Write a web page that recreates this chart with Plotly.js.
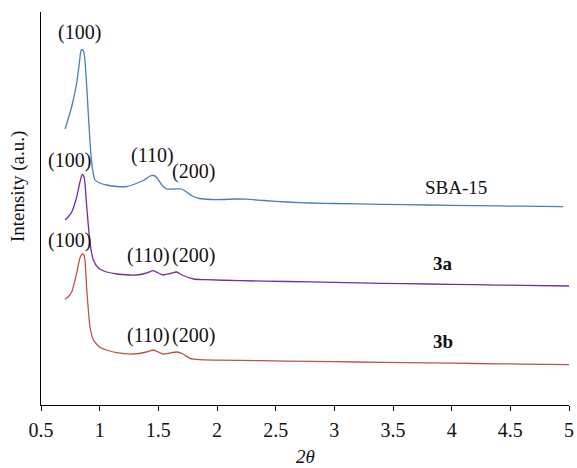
<!DOCTYPE html>
<html>
<head>
<meta charset="utf-8">
<script src="https://cdn.plot.ly/plotly-3.0.1.min.js"></script>
<style>html,body{margin:0;padding:0;background:#fff;}#chart{width:577px;height:468px;}</style>
</head>
<body>
<div id="chart"></div>
<script>
// 2θ values and intensities (arbitrary units)
const sbaX = [0.705,0.747,0.775,0.804,0.827,0.84,0.85,0.862,0.872,0.89,0.918,0.94,0.96,1.00,1.06,1.15,1.23,1.30,1.38,1.43,1.46,1.49,1.53,1.57,1.63,1.70,1.74,1.79,1.85,1.95,2.05,2.15,2.25,2.4,2.6,2.8,3.0,3.4,3.8,4.2,4.6,4.95];
const sbaY = [276,292,305,322,342,354,355.5,354,348,318,262,235,225,222,220,218.5,218.5,221,225,229,229.5,227,220,216,216,216,213,209,206.5,205.5,205.5,206,205.8,204.5,203,202,201.5,200.7,200,199.3,198.8,198.3];

const a3X = [0.705,0.735,0.762,0.804,0.832,0.852,0.867,0.89,0.918,0.946,0.989,1.06,1.15,1.32,1.40,1.457,1.50,1.54,1.60,1.657,1.70,1.76,1.80,1.9,2.2,2.6,3.0,3.4,3.8,4.2,4.6,5.0];
const a3Y = [185,188.5,193,208,223,230.5,228,198,162,145,137,133,131,130,132,134.3,132,130,131.5,133,130,127.5,126,125.3,124.3,123.5,122.7,121.7,121,120.3,119.6,119];

const b3X = [0.705,0.735,0.762,0.804,0.832,0.852,0.869,0.89,0.918,0.946,1.003,1.07,1.145,1.287,1.40,1.457,1.50,1.54,1.60,1.657,1.71,1.77,1.85,2.0,2.37,2.8,3.2,3.6,4.0,4.4,4.8,5.0];
const b3Y = [105.7,108.5,113,132,147,151,149,115,78,65,57.7,54.5,52.3,51,53,55,53,51,52,53,51,46.7,45.3,44.8,44.3,43.6,43,42.4,41.8,41.2,40.6,40.3];

const peakLabels = ["(100)","(110)","(200)"];
const sampleNames = ["SBA-15","<b>3a</b>","<b>3b</b>"];
const xTicks = [0.5,1,1.5,2,2.5,3,3.5,4,4.5,5];
const xTickText = ["0.5","1","1.5","2","2.5","3","3.5","4","4.5","5"];

const FONT = "'Liberation Serif', serif";
const FS = 20;

const traces = [
  {x: sbaX, y: sbaY, mode: "lines", line: {color: "#4a7ebb", width: 1.3, shape: "spline", smoothing: 0.6}, hoverinfo: "skip"},
  {x: a3X, y: a3Y, mode: "lines", line: {color: "#7030a0", width: 1.3, shape: "spline", smoothing: 0.6}, hoverinfo: "skip"},
  {x: b3X, y: b3Y, mode: "lines", line: {color: "#c0504d", width: 1.3, shape: "spline", smoothing: 0.6}, hoverinfo: "skip"}
];

function lab(text, x, y, size) {
  return {text: text, x: x, y: y, xref: "x", yref: "y", showarrow: false,
          font: {family: FONT, size: size || FS, color: "#111"}, xanchor: "center", yanchor: "middle"};
}

const annotations = [
  lab(peakLabels[0], 0.832, 373),
  lab(peakLabels[0], 0.743, 244.5),
  lab(peakLabels[1], 1.446, 250),
  lab(peakLabels[2], 1.80, 234),
  lab(peakLabels[0], 0.743, 165),
  lab(peakLabels[1], 1.415, 150),
  lab(peakLabels[2], 1.798, 150),
  lab(peakLabels[1], 1.415, 70),
  lab(peakLabels[2], 1.798, 70),
  lab(sampleNames[0], 4.04, 217.3, 19),
  lab(sampleNames[1], 3.93, 142, 19),
  lab(sampleNames[2], 3.93, 64, 19),
  {text: "<i>2θ</i>", xref: "paper", yref: "paper", x: 0.5, y: -0.132, showarrow: false,
   font: {family: FONT, size: 19, color: "#111"}, xanchor: "center", yanchor: "middle"},
  {text: "Intensity (a.u.)", xref: "paper", yref: "paper", x: -0.0436, y: 0.557, showarrow: false, textangle: -90,
   font: {family: FONT, size: 19, color: "#111"}, xanchor: "center", yanchor: "middle"}
];

const layout = {
  width: 577, height: 468,
  margin: {l: 41, r: 8, t: 12, b: 63},
  paper_bgcolor: "#fff", plot_bgcolor: "#fff",
  showlegend: false,
  xaxis: {range: [0.5, 5], tickvals: xTicks, ticktext: xTickText, ticks: "outside", ticklen: 5, tickwidth: 1,
          tickcolor: "#000", showline: true, linecolor: "#000", linewidth: 1.2, showgrid: false, zeroline: false,
          ticklabelstandoff: 2, tickfont: {family: FONT, size: FS, color: "#111"}},
  yaxis: {range: [0, 393], showticklabels: false, ticks: "", showline: true, linecolor: "#000", linewidth: 1.2,
          showgrid: false, zeroline: false},
  annotations: annotations
};

Plotly.newPlot("chart", traces, layout, {displayModeBar: false, staticPlot: true});
</script>
</body>
</html>
